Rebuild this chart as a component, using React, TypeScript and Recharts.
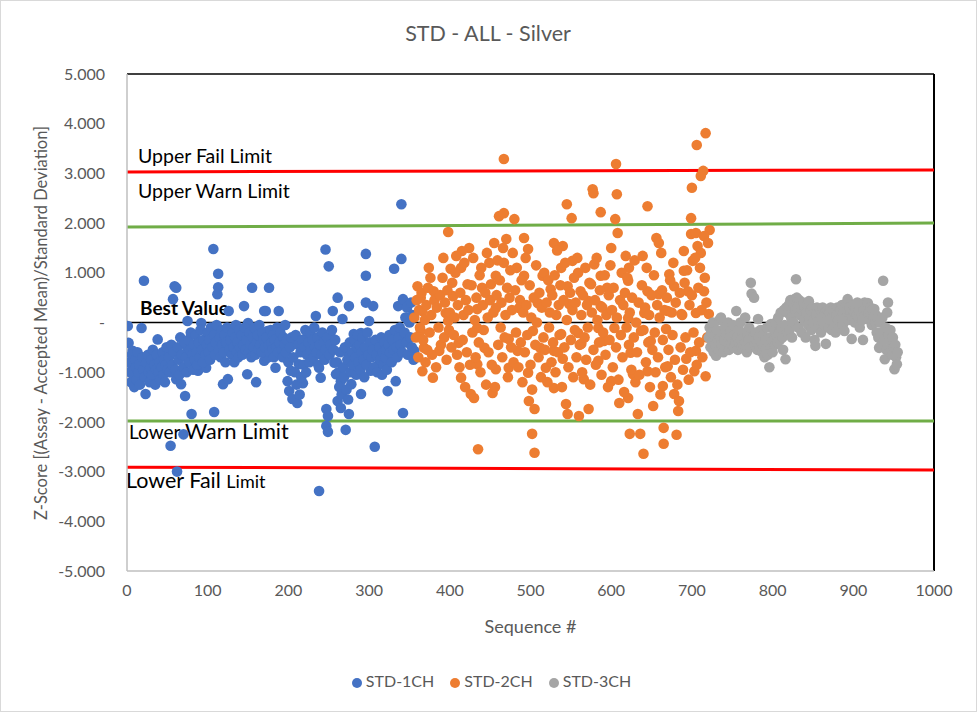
import React from "react";
import {
  Legend,
  ReferenceLine,
  Scatter,
  ScatterChart,
  XAxis,
  YAxis,
} from "recharts";

const FONT = "Lato, 'Open Sans', sans-serif";
const TEXT = "#595959";

// [sequence #, z-score]
const std1ch: [number, number][] = [
  [1, -0.07], [2, -0.41], [18, -0.11], [21, 0.84], [38, -0.34], [23, -1.44], [33, -1.11], [7, -0.57], [7, -0.91],
  [17, -0.77], [42, -0.71], [51, -0.57], [57, 0.47], [59, 0.73], [61, 0.7], [54, -2.48], [70, -2.25], [62, -3.0],
  [61, -1.14], [67, -1.24], [72, -1.48], [80, -1.84], [75, -0.53], [75, 0.03], [88, -0.97], [92, -0.01], [96, -0.53],
  [98, -0.91], [107, 1.48], [113, 0.98], [113, 0.71], [112, 0.57], [108, -1.8], [113, -0.23], [119, -1.24], [125, -1.14],
  [126, 0.23], [129, -0.27], [141, -0.37], [145, 0.33], [149, -1.04], [150, -0.01], [155, 0.7], [160, -1.2], [166, -0.3],
  [170, -0.77], [170, 0.23], [172, 0.23], [175, -0.57], [176, 0.7], [174, -0.17], [174, -0.71], [184, -0.91], [188, 0.23],
  [191, -0.3], [199, -1.18], [201, -1.38], [203, -0.97], [205, -1.54], [207, -0.43], [211, -1.62], [213, -0.84], [218, -1.22],
  [224, -0.23], [229, -0.77], [234, 0.13], [238, -0.91], [238, -3.39], [240, -1.11], [243, -0.51], [246, 1.47], [247, -1.74],
  [247, -2.08], [249, -1.88], [249, -2.2], [250, 1.13], [253, -0.3], [255, 0.23], [257, -0.81], [259, -1.04], [261, 0.5],
  [261, -1.58], [265, -1.18], [265, -1.72], [267, 0.07], [271, -2.16], [275, 0.33], [275, -0.64], [275, -1.84], [278, -1.24],
  [281, -0.23], [290, -0.21], [290, -0.57], [290, -1.44], [296, 1.38], [296, 0.94], [296, 0.4], [300, 0.03], [302, -0.97],
  [305, 0.33], [307, -2.5], [311, -0.41], [312, -0.84], [323, -0.71], [323, -1.38], [327, -0.3], [331, 1.08], [333, -1.18],
  [336, 0.33], [340, 2.38], [340, 1.28], [342, 0.47], [342, -1.82], [343, -0.23], [349, 0.03], [356, -0.57],
  [3, -0.8], [4, -1.0], [5, -1.2], [6, -0.65], [8, -1.05], [9, -1.3], [10, -0.75], [11, -0.9], [12, -1.15], [13, -0.6],
  [14, -1.0], [15, -0.85], [16, -1.25], [19, -0.7], [20, -0.95], [22, -1.1], [24, -0.8], [26, -0.65], [27, -1.0], [28, -1.2],
  [29, -0.9], [30, -0.75], [31, -1.05], [32, -0.55], [34, -0.85], [35, -1.25], [36, -0.95], [37, -0.65], [39, -1.0], [40, -0.8],
  [41, -1.15], [43, -0.9], [44, -0.6], [45, -1.05], [46, -0.75], [47, -1.2], [48, -0.85], [49, -0.5], [50, -0.95],
  [52, -0.7], [53, -1.0], [55, -0.45], [56, -0.85], [58, -0.6], [60, -0.95], [63, -0.5], [64, -0.75], [65, -1.05], [66, -0.3],
  [68, -0.65], [70, -0.9], [71, -0.4], [73, -0.7], [74, -1.0], [76, -0.35], [77, -0.8], [78, -0.55], [79, -0.2], [81, -0.65],
  [82, -0.95], [83, -0.45], [84, -0.75], [85, -0.25], [86, -0.6], [87, -0.85], [89, -0.4], [90, -0.7], [91, -0.15], [93, -0.55],
  [94, -0.8], [95, -0.35], [97, -0.65], [99, -0.45], [100, -0.2],
  [101, -0.6], [102, -0.35], [103, -0.75], [104, -0.1], [106, -0.5], [108, -0.25], [109, -0.65], [110, -0.4], [111, -0.05],
  [114, -0.55], [115, -0.3], [116, -0.7], [117, -0.15], [118, -0.45], [120, -0.6], [121, -0.25], [122, -0.8], [123, -0.4],
  [124, -0.1], [127, -0.55], [128, -0.35], [130, -0.65], [131, -0.2], [132, -0.5], [133, -0.8], [134, -0.3], [135, -0.05],
  [136, -0.6], [137, -0.4], [138, -0.7], [139, -0.15], [140, -0.5], [142, -0.25], [143, -0.65], [144, -0.45], [146, -0.1],
  [147, -0.55], [148, -0.35], [151, -0.6], [152, -0.2], [153, -0.45], [154, -0.7], [156, -0.3], [157, -0.5], [158, -0.1],
  [159, -0.65], [161, -0.4], [162, -0.25], [163, -0.55], [164, -0.05], [165, -0.45], [167, -0.6], [168, -0.2], [169, -0.35],
  [171, -0.5], [173, -0.3], [176, -0.45], [177, -0.6], [178, -0.15], [179, -0.4], [180, -0.55], [181, -0.25], [182, -0.7],
  [183, -0.35], [185, -0.5], [186, -0.1], [187, -0.6], [189, -0.4], [190, -0.2], [192, -0.55], [193, -0.7], [194, -0.3],
  [195, -0.45], [196, -0.05], [197, -0.6], [198, -0.35], [200, -0.8],
  [202, -0.5], [204, -0.3], [206, -0.7], [208, -1.0], [209, -0.25], [210, -1.25], [212, -0.45], [214, -1.45], [215, -0.6],
  [216, -1.1], [217, -0.35], [219, -0.85], [220, -0.5], [221, -0.15], [222, -1.0], [223, -0.65], [225, -0.4], [226, -0.8],
  [227, -0.2], [228, -0.55], [230, -0.35], [231, -0.7], [232, -0.1], [233, -0.5], [235, -0.6], [236, -0.3], [237, -0.85],
  [239, -0.45], [241, -0.65], [242, -0.2], [244, -0.4], [245, -0.75], [246, -0.55], [248, -0.3], [251, -0.65], [252, -0.45],
  [254, -0.15], [256, -0.55], [258, -0.35],
  [260, -0.8], [262, -1.0], [263, -1.3], [264, -0.6], [266, -1.45], [268, -0.9], [269, -1.1], [270, -0.5], [272, -1.35],
  [273, -0.75], [274, -1.55], [276, -0.4], [277, -1.0], [279, -0.6], [280, -0.85], [282, -0.35], [283, -0.7], [284, -1.05],
  [285, -0.5], [286, -0.25], [287, -0.8], [288, -0.45], [289, -0.95], [291, -0.6], [292, -0.3], [293, -0.75], [294, -1.1],
  [295, -0.5], [297, -0.85], [298, -0.2], [299, -0.65], [301, -0.4], [303, -0.7], [304, -0.55], [306, -0.9], [308, -0.35],
  [309, -0.65], [310, -1.0], [313, -0.5], [314, -0.75], [315, -0.3], [316, -1.05], [317, -0.6], [318, -0.85], [319, -0.4],
  [320, -0.7], [321, -0.55], [322, -0.95], [324, -0.45], [325, -0.25], [326, -0.6], [328, -0.8], [329, -0.35], [330, -0.55],
  [332, -0.15], [334, -0.5], [335, -0.7], [337, -0.3], [338, -0.1], [339, -0.45], [341, -0.6], [344, -0.2], [345, 0.1],
  [346, -0.4], [347, 0.3], [348, -0.65], [350, 0.0], [351, -0.3], [352, 0.4], [353, -0.5], [354, 0.15], [355, -0.75],
];

const std2ch: [number, number][] = [
  [467, 3.29], [606, 3.19], [717, 3.81], [706, 3.57], [714, 3.05], [711, 2.95], [700, 2.71], [577, 2.68], [578, 2.6],
  [607, 2.58], [545, 2.38], [587, 2.22], [551, 2.1], [645, 2.34], [605, 2.08], [699, 2.1], [608, 1.8], [461, 2.14],
  [467, 2.2], [480, 2.08], [398, 1.82], [470, 1.68], [492, 1.7], [455, 1.6], [424, 1.5], [415, 1.44], [408, 1.34],
  [392, 1.3], [497, 1.48], [529, 1.6], [540, 1.54], [600, 1.5], [618, 1.34], [639, 1.34], [656, 1.7], [659, 1.6],
  [662, 1.4], [699, 1.78], [705, 1.8], [722, 1.86], [715, 1.74], [690, 1.44], [707, 1.54], [711, 1.4],
  [374, 1.1], [376, 0.9], [401, 1.08], [414, 1.1], [439, 1.1], [449, 1.2], [467, 1.2], [457, 0.94], [492, 0.94],
  [515, 0.94], [538, 1.1], [552, 1.24], [559, 1.0], [579, 1.17], [587, 0.94], [622, 1.1], [621, 0.84], [672, 0.97],
  [690, 1.04], [701, 1.24], [360, 0.73], [364, 0.5], [380, 0.63], [404, 0.53], [422, 0.77], [440, 0.7], [451, 0.77],
  [471, 0.7], [525, 0.67], [546, 0.73], [562, 0.63], [575, 0.77], [595, 0.7], [645, 0.63], [659, 0.57], [678, 0.73],
  [695, 0.63], [715, 0.63], [366, 0.23], [395, 0.19], [434, 0.27], [457, 0.29], [486, 0.29], [509, 0.39], [548, 0.37],
  [572, 0.43], [587, 0.33], [621, 0.09], [641, 0.19], [670, 0.23], [687, 0.17], [705, 0.19], [721, 0.17],
  [364, -0.17], [398, 0.03], [434, -0.11], [473, -0.33], [503, -0.17], [538, -0.23], [559, -0.21], [584, -0.11],
  [604, -0.11], [637, -0.17], [668, -0.13], [368, -0.51], [387, -0.57], [411, -0.41], [443, -0.51], [484, -0.57],
  [512, -0.51], [529, -0.57], [563, -0.43], [591, -0.37], [624, -0.61], [649, -0.37], [693, -0.73], [705, -0.57],
  [366, -0.98], [379, -1.11], [414, -1.11], [434, -0.84], [457, -0.94], [473, -0.91], [497, -1.01], [519, -0.91],
  [540, -0.73], [566, -1.14], [584, -0.77], [600, -1.18], [627, -1.04], [645, -0.98], [670, -0.88], [717, -1.08],
  [703, -0.98], [426, -1.44], [430, -1.52], [453, -1.42], [498, -1.58], [505, -1.74], [529, -1.32], [544, -1.64],
  [546, -1.84], [560, -1.88], [572, -1.74], [610, -1.62], [621, -1.52], [633, -1.84], [652, -1.68], [664, -1.28],
  [678, -1.44], [684, -1.58], [683, -1.78], [502, -2.24], [505, -2.62], [435, -2.55], [623, -2.24], [636, -2.24],
  [640, -2.64], [665, -2.12], [665, -2.44], [681, -2.26],
  [356, 0.1], [358, -0.3], [359, 0.45], [361, -0.7], [362, 0.25], [363, -0.1], [365, 0.6], [367, -0.35], [369, 0.05],
  [370, -0.8], [371, 0.35], [372, -0.55], [373, 0.7], [375, -0.2], [377, 0.15], [378, -0.65], [381, 0.45], [383, -0.9],
  [384, 0.3], [386, -0.1], [388, 0.55], [389, -0.45], [391, 0.9], [393, -0.3], [394, 0.4], [396, -0.75], [397, 0.65],
  [399, -0.15], [400, 0.2], [402, -0.5], [403, 0.8], [405, -0.25], [406, 0.1], [407, 1.0], [409, -0.65], [410, 0.35],
  [412, -0.9], [413, 0.6], [416, -0.35], [417, 0.15], [418, 1.2], [419, -1.3], [420, 0.45], [421, -0.6], [423, 0.25],
  [425, -0.85], [427, 0.75], [428, -0.2], [429, 1.3], [431, 0.05], [432, -0.7], [433, 0.5], [436, -0.4], [437, 0.95],
  [438, -1.0], [441, 0.35], [442, -0.15], [444, 0.6], [445, -1.25], [446, 1.4], [447, 0.1], [448, -0.6], [450, 0.45],
  [452, -0.85], [454, 0.2], [456, -1.3], [458, 0.55], [459, 1.25], [460, -0.45], [462, 0.85], [463, -0.1], [464, 0.4],
  [465, -0.7], [466, 1.5], [468, -0.3], [469, 0.15], [472, -1.1], [474, 0.5], [475, 1.05], [476, -0.5], [477, 0.25],
  [478, 1.4], [479, -0.8], [481, 0.65], [482, -0.2], [483, 1.1], [485, -0.9], [487, 0.45], [488, -0.4], [489, 0.85],
  [490, -1.2], [491, 0.2], [493, -0.6], [494, 1.3], [495, 0.35], [496, -0.25], [499, 0.75], [500, -0.85], [501, 0.1],
  [502, -1.35], [504, 0.5], [506, -0.45], [507, 1.15], [508, 0.0], [510, -0.7], [511, 0.6], [513, -1.1], [514, 0.3],
  [516, -0.3], [517, 1.0], [518, -0.55], [520, 0.4], [521, -1.2], [522, 0.85], [523, -0.1], [524, 0.2], [526, -0.8],
  [527, 0.55], [528, -0.4], [530, 0.95], [531, -1.0], [532, 0.15], [533, 1.45], [534, -0.6], [535, 0.35], [536, -0.25],
  [537, 0.75], [539, -1.3], [541, 0.45], [542, -0.5], [543, 1.2], [545, 0.05], [547, -0.9], [549, 0.6], [550, -0.35],
  [552, 0.25], [553, -1.1], [554, 0.9], [555, -0.15], [556, 0.4], [557, -0.7], [558, 1.3], [561, -0.45], [563, 0.15],
  [564, -1.0], [565, 0.55], [567, -0.3], [568, 1.1], [569, -0.75], [570, 0.35], [571, -0.1], [573, 0.8], [574, -1.25],
  [576, 0.2], [578, -0.55], [580, 0.45], [581, -0.85], [582, 1.3], [583, 0.05], [585, -0.4], [586, 0.65], [588, -1.05],
  [589, 0.3], [590, -0.2], [592, 0.95], [593, -0.65], [594, 0.15], [596, -1.3], [597, 0.55], [598, -0.35], [599, 1.15],
  [601, 0.25], [602, -0.9], [603, 0.7], [606, -0.5], [607, 0.1], [609, -1.15], [611, 0.45], [612, -0.25], [613, 1.0],
  [614, -0.7], [615, 0.35], [616, -1.4], [617, 0.6], [619, -0.1], [620, 0.9], [622, -0.45], [623, 0.2], [625, -0.95],
  [626, 0.5], [628, -0.3], [629, 1.25], [630, -1.2], [631, 0.0], [632, -0.6], [634, 0.4], [635, -1.05], [638, 0.75],
  [640, -0.15], [642, 0.3], [643, -0.8], [644, 1.1], [646, -0.4], [647, 0.15], [648, -1.3], [650, 0.55], [651, -0.55],
  [653, 0.95], [654, -0.2], [655, -1.0], [657, 0.35], [658, -0.7], [660, 0.1], [661, -1.45], [663, 0.65], [664, -0.35],
  [666, 0.25], [667, -0.9], [669, 0.5], [671, -0.55], [673, 0.85], [674, -1.1], [675, 0.2], [676, -0.25], [677, 1.2],
  [679, -0.75], [680, 0.4], [682, -1.25], [685, 0.6], [686, -0.5], [688, 0.15], [689, -0.95], [691, 0.8], [692, -0.3],
  [694, 1.05], [696, -1.15], [697, 0.35], [698, -0.6], [700, 0.55], [702, -0.2], [704, 1.3], [706, -0.85], [708, 0.7],
  [709, -0.4], [710, 1.1], [712, 0.25], [713, -0.7], [716, 0.9], [718, 0.4], [719, -0.3], [720, 1.6],
];

const std3ch: [number, number][] = [
  [721, -0.3], [722, -0.1], [723, -0.5], [724, -0.2], [725, -0.4], [726, 0.0], [727, -0.6], [728, -0.25], [729, -0.45],
  [730, -0.67], [731, -0.15], [732, -0.35], [733, -0.55], [734, 0.05], [735, -0.3], [736, 0.1], [737, -0.45], [738, -0.2],
  [739, -0.6], [740, -0.35], [741, -0.1], [742, -0.5], [743, -0.25], [744, -0.4], [745, 0.0], [746, -0.55], [747, -0.3],
  [748, -0.15], [749, -0.45], [750, -0.35], [751, -0.05], [752, -0.5], [753, -0.25], [754, -0.4], [755, 0.23], [756, -0.3],
  [757, -0.55], [758, -0.15], [759, -0.4], [760, 0.0], [761, -0.35], [762, -0.5], [763, -0.2], [764, -0.45], [765, -0.3],
  [766, 0.1], [767, -0.4], [768, -0.6], [769, -0.25], [770, -0.35], [771, -0.1], [772, -0.5], [773, 0.8], [774, 0.58],
  [776, -0.3], [777, 0.5], [778, -0.45], [779, -0.2], [780, -0.35], [781, -0.55], [782, 0.07], [783, -0.3], [784, -0.5],
  [785, -0.15], [786, -0.4], [787, -0.6], [788, -0.25], [789, -0.45], [790, -0.7], [791, -0.35], [792, -0.55], [793, -0.1],
  [794, -0.65], [795, -0.4], [796, -0.9], [797, -0.3], [798, -0.03], [799, -0.5], [800, -0.6],
  [801, -0.35], [802, -0.15], [803, -0.45], [804, 0.0], [805, -0.25], [806, -0.4], [807, 0.1], [808, -0.2], [809, -0.35],
  [810, 0.2], [811, -0.1], [812, -0.3], [813, -0.55], [814, 0.25], [815, -0.05], [816, -0.74], [817, 0.3], [818, -0.2],
  [819, 0.19], [820, 0.35], [821, -0.15], [822, 0.45], [823, 0.1], [824, -0.3], [825, 0.4], [826, 0.0], [827, 0.47],
  [828, 0.25], [829, 0.87], [830, 0.5],
  [831, 0.3], [832, -0.1], [833, 0.45], [834, 0.15], [835, 0.35], [836, -0.2], [837, 0.25], [838, 0.4], [839, 0.05],
  [840, 0.3], [841, -0.3], [842, 0.2], [843, 0.35], [844, -0.05], [845, 0.43], [846, 0.1], [847, 0.25], [848, -0.15],
  [849, 0.3], [850, 0.0], [851, 0.2], [852, -0.35], [853, -0.47], [854, 0.15], [855, 0.3], [856, -0.1], [857, 0.2],
  [858, 0.05], [859, 0.25], [860, -0.2], [861, 0.1], [862, 0.3], [863, 0.19], [864, -0.05], [865, 0.2], [866, -0.43],
  [867, 0.15], [868, 0.25], [869, -0.1], [870, 0.2], [871, 0.05], [872, 0.3], [873, -0.15], [874, 0.1], [875, 0.25],
  [876, 0.0], [877, 0.2], [878, -0.2], [879, 0.15], [880, 0.3], [881, 0.05], [882, 0.2], [883, -0.1], [884, 0.25],
  [885, 0.1], [886, 0.35], [887, -0.05], [888, 0.2], [889, -0.17], [890, 0.3], [891, 0.1], [892, 0.25], [893, 0.47],
  [894, 0.05], [895, 0.3], [896, 0.15], [897, 0.2], [898, -0.33], [899, 0.1], [900, 0.35], [901, 0.2], [902, 0.0],
  [903, 0.3], [904, 0.15], [905, 0.4], [906, 0.1], [907, 0.25], [908, -0.1], [909, 0.3], [910, 0.2], [911, 0.05],
  [912, -0.35], [913, 0.25], [914, 0.4], [915, 0.15], [916, 0.3], [917, 0.1], [918, 0.39], [919, 0.2], [920, 0.05],
  [921, 0.3], [922, 0.15], [923, -0.05], [924, 0.25], [925, 0.1], [926, 0.27], [927, 0.0], [928, 0.15], [929, -0.2],
  [930, 0.1], [931, -0.3], [932, -0.51], [933, 0.0], [934, -0.2], [935, -0.45], [936, 0.1], [937, 0.84], [938, -0.35],
  [939, -0.74], [940, -0.1], [941, -0.55], [942, 0.2], [943, 0.4], [944, -0.25], [945, -0.6], [946, -0.15], [947, -0.4],
  [948, -0.65], [949, -0.3], [950, -0.5], [951, -0.94], [952, -0.45], [953, -0.7], [954, -0.84], [955, -0.6],
];

// limit lines, value at sequence 0 and at sequence 1000
const limitX = [0, 1000];
const upperFail = [3.03, 3.07];
const upperWarn = [1.92, 2.0];
const bestValue = [0, 0];
const lowerWarn = [-1.98, -1.98];
const lowerFail = [-2.91, -2.97];

const xTicks = [0, 100, 200, 300, 400, 500, 600, 700, 800, 900, 1000];
const yTicks = [-5, -4, -3, -2, -1, 0, 1, 2, 3, 4, 5];

const toPoints = (rows: [number, number][]) => rows.map(([x, y]) => ({ x, y }));
const segment = (vals: number[]) => [
  { x: limitX[0], y: vals[0] },
  { x: limitX[1], y: vals[1] },
];

function dot(fill: string) {
  return (p: any) => <circle cx={p.cx} cy={p.cy} r={5.3} fill={fill} />;
}

function limitLabel(parts: { text: string; size: number; bold?: boolean }[], dx: number, dy: number) {
  return (p: any) => {
    const vb = p.viewBox || {};
    return (
      <g>
        <text x={vb.x + dx} y={vb.y + dy} fill="#000" fontFamily={FONT}>
          {parts.map((t, i) => (
            <tspan key={i} fontSize={t.size} fontWeight={t.bold ? 700 : 400}>
              {t.text}
            </tspan>
          ))}
        </text>
      </g>
    );
  };
}

export default function App() {
  return (
    <div
      style={{
        position: "absolute",
        left: 0,
        top: 0,
        width: 977,
        height: 712,
        background: "#fff",
        border: "1px solid #d9d9d9",
        boxSizing: "border-box",
      }}
    >
      <ScatterChart
        width={975}
        height={710}
        margin={{ top: 73, right: 42, bottom: 110, left: 26 }}
        style={{ fontFamily: FONT }}
      >
        <g>
          <text x={487} y={40} textAnchor="middle" fontSize={21.5} fill={TEXT} fontFamily={FONT}>
            STD - ALL - Silver
          </text>
        </g>
        <XAxis
          type="number"
          dataKey="x"
          domain={[0, 1000]}
          ticks={xTicks}
          allowDataOverflow
          tickLine={false}
          tickSize={0}
          tickMargin={14}
          axisLine={{ stroke: "#bfbfbf", strokeWidth: 1.5 }}
          tick={{ fontSize: 16, fill: TEXT }}
          height={30}
          label={{ value: "Sequence #", position: "insideBottom", offset: -32, fontSize: 18, fill: TEXT }}
        />
        <YAxis
          type="number"
          dataKey="y"
          domain={[-5, 5]}
          ticks={yTicks}
          allowDataOverflow
          tickLine={false}
          tickSize={0}
          tickMargin={22}
          axisLine={{ stroke: "#bfbfbf", strokeWidth: 1.5 }}
          tick={{ fontSize: 16, fill: TEXT }}
          tickFormatter={(v: number) => (v === 0 ? "-" : v.toFixed(3))}
          width={100}
        />
        <ReferenceLine y={5} stroke="#000" strokeWidth={1.5} />
        <ReferenceLine x={1000} stroke="#000" strokeWidth={2} />
        <Legend
          layout="horizontal"
          align="center"
          verticalAlign="middle"
          iconType="circle"
          iconSize={10}
          wrapperStyle={{ top: 670, left: 22, width: 953 }}
          formatter={(value: string) => (
            <span style={{ color: TEXT, fontSize: 16, fontFamily: FONT, marginRight: 6 }}>{value}</span>
          )}
        />
        <Scatter name="STD-1CH" data={toPoints(std1ch)} fill="#4472c4" shape={dot("#4472c4")} isAnimationActive={false} />
        <Scatter name="STD-2CH" data={toPoints(std2ch)} fill="#ed7d31" shape={dot("#ed7d31")} isAnimationActive={false} />
        <Scatter name="STD-3CH" data={toPoints(std3ch)} fill="#a5a5a5" shape={dot("#a5a5a5")} isAnimationActive={false} />
        <ReferenceLine
          segment={segment(upperFail)}
          stroke="#ff0000"
          strokeWidth={3}
          label={limitLabel([{ text: "Upper Fail Limit", size: 19.5 }], 11, -7)}
        />
        <ReferenceLine
          segment={segment(upperWarn)}
          stroke="#70ad47"
          strokeWidth={3}
          label={limitLabel([{ text: "Upper Warn Limit", size: 19.5 }], 11, -25)}
        />
        <ReferenceLine
          segment={segment(bestValue)}
          stroke="#000"
          strokeWidth={1.5}
          label={limitLabel([{ text: "Best Value", size: 19, bold: true }], 13, -8)}
        />
        <ReferenceLine
          segment={segment(lowerWarn)}
          stroke="#70ad47"
          strokeWidth={3}
          label={limitLabel(
            [
              { text: "Lower ", size: 19 },
              { text: "Warn Limit", size: 21.5 },
            ],
            2,
            18
          )}
        />
        <ReferenceLine
          segment={segment(lowerFail)}
          stroke="#ff0000"
          strokeWidth={3}
          label={limitLabel(
            [
              { text: "Lower Fail ", size: 21.5 },
              { text: "Limit", size: 18 },
            ],
            -1,
            21
          )}
        />
      </ScatterChart>
      <div
        style={{
          position: "absolute",
          left: 40,
          top: 322,
          transform: "translate(-50%, -50%) rotate(-90deg)",
          whiteSpace: "nowrap",
          fontFamily: FONT,
          fontSize: 16.5,
          color: TEXT,
          lineHeight: 1,
        }}
      >
        Z-Score [(Assay - Accepted Mean)/Standard Deviation]
      </div>
    </div>
  );
}
